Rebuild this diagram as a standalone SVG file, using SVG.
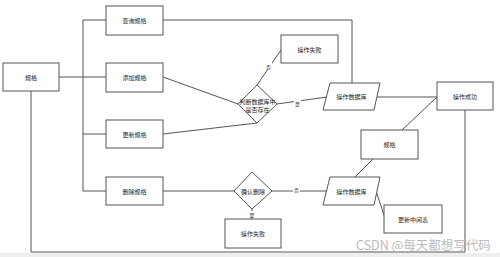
<svg xmlns="http://www.w3.org/2000/svg" width="500" height="257" viewBox="0 0 500 257">
<style>
.b{fill:#fff;stroke:#555;stroke-width:1}
.c{fill:none;stroke:#555;stroke-width:1}
.t{font-family:"Noto Sans CJK SC","Noto Sans",sans-serif;font-size:6px;fill:#222;text-anchor:middle;dominant-baseline:central}
.l{font-family:"Noto Sans CJK SC","Noto Sans",sans-serif;font-size:5px;fill:#333;text-anchor:middle;dominant-baseline:central}
</style>
<rect x="0" y="0" width="500" height="257" fill="#fff"/>
<rect x="0" y="253" width="500" height="4" fill="#eeeeee"/>
<g id="connectors">
<path class="c" d="M59 77H83M83 20V191M83 20H106M83 77H106M83 134H106M83 191H106"/>
<path class="c" d="M31 91V252H465V110"/>
<path class="c" d="M163 20H352V83"/>
<path class="c" d="M163 77L238 104"/>
<path class="c" d="M163 134L257 123"/>
<path class="c" d="M257 85L281 50"/>
<path class="c" d="M277 104L327 97"/>
<path class="c" d="M377 97H437"/>
<path class="c" d="M402 130L437 97"/>
<path class="c" d="M373 159L355 177"/>
<path class="c" d="M163 191H234"/>
<path class="c" d="M272 191H327"/>
<path class="c" d="M252 209V219"/>
<path class="c" d="M375 188L385 218"/>
<rect x="265" y="63" width="7" height="6" fill="#fff"/>
<text class="l" x="268.5" y="66">否</text>
<rect x="294" y="100" width="7" height="6" fill="#fff"/>
<text class="l" x="297.5" y="103">是</text>
<rect x="293" y="186" width="7" height="6" fill="#fff"/>
<text class="l" x="296.5" y="189">否</text>
<rect x="249" y="211" width="6" height="6" fill="#fff"/>
<text class="l" x="252" y="214">是</text>
</g>
<g id="guige"><rect class="b" x="3" y="63" width="56" height="28"/><text class="t" x="31" y="77">规格</text></g>
<g id="chaxun"><rect class="b" x="106" y="6" width="57" height="29"/><text class="t" x="134.5" y="20.5">查询规格</text></g>
<g id="tianjia"><rect class="b" x="106" y="63" width="57" height="29"/><text class="t" x="134.5" y="77.5">添加规格</text></g>
<g id="gengxin"><rect class="b" x="106" y="120" width="57" height="28"/><text class="t" x="134.5" y="134">更新规格</text></g>
<g id="shanchu"><rect class="b" x="106" y="177" width="57" height="28"/><text class="t" x="134.5" y="191">删除规格</text></g>
<g id="panduan"><polygon class="b" points="257,85 277,104 257,123 238,104"/><text class="t" x="257.5" y="101.5">判断数据库中</text><text class="t" x="257.5" y="109">是否存在</text></g>
<g id="shibai1"><rect class="b" x="281" y="35" width="57" height="28"/><text class="t" x="309.5" y="49">操作失败</text></g>
<g id="db1"><polygon class="b" points="330,83 380,83 374,110 323,110"/><text class="t" x="351.5" y="96.5">操作数据库</text></g>
<g id="chenggong"><rect class="b" x="437" y="82" width="56" height="28"/><text class="t" x="465" y="96">操作成功</text></g>
<g id="guige2"><rect class="b" x="361" y="130" width="57" height="29"/><text class="t" x="389.5" y="144.5">规格</text></g>
<g id="queren"><polygon class="b" points="252,172 272,191 252,209 234,191"/><text class="t" x="253" y="191">确认删除</text></g>
<g id="db2"><polygon class="b" points="330,177 380,177 374,205 323,205"/><text class="t" x="351.5" y="191">操作数据库</text></g>
<g id="shibai2"><rect class="b" x="225" y="219" width="56" height="29"/><text class="t" x="253" y="233.5">操作失败</text></g>
<g id="zhongjian"><rect class="b" x="384" y="205" width="58" height="28"/><text class="t" x="413" y="219">更新中间表</text></g>
<text x="356" y="250" font-family="'Noto Sans CJK SC','Noto Sans',sans-serif" font-size="12.5" fill="#bbbbbb">CSDN @每天都想写代码</text>
</svg>
